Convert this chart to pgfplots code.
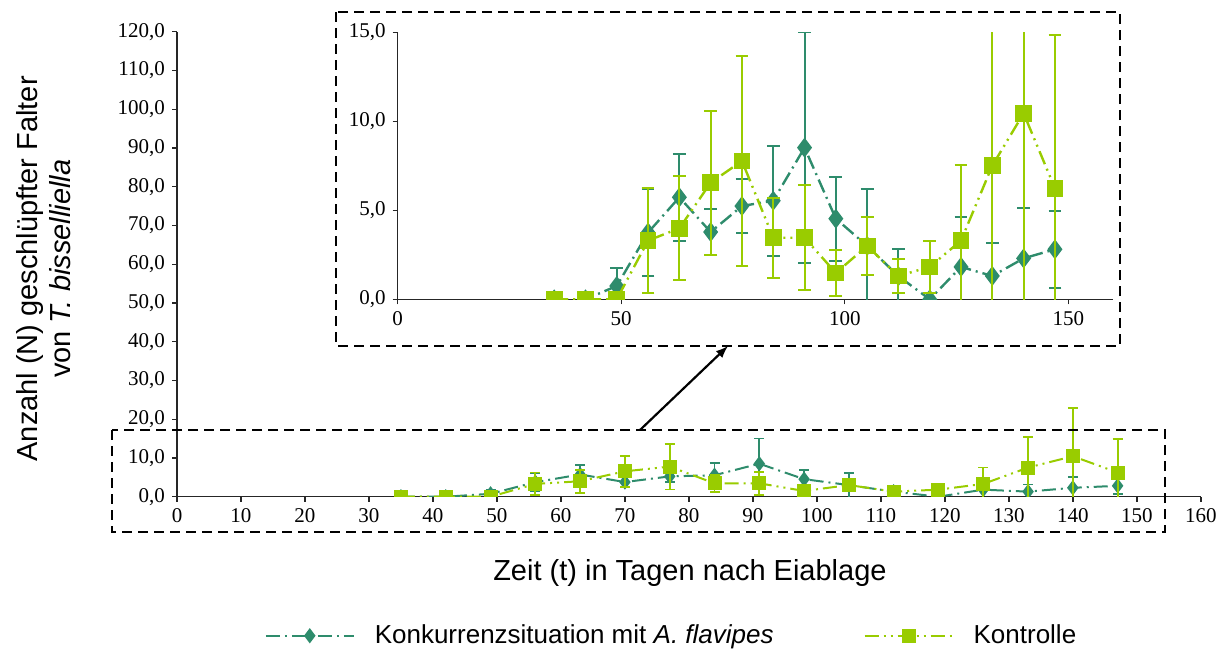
\documentclass[border=0pt]{standalone}
\usepackage{fontspec}
\setmainfont{Liberation Sans}
\newfontfamily\tickfont{Liberation Serif}
\usepackage{pgfplots}
\usepackage{pgfplotstable}
\pgfplotsset{compat=1.18}

\definecolor{konk}{RGB}{46,140,108}
\definecolor{kontr}{RGB}{153,204,0}

% day, mean, error
\pgfplotstableread{
x y e
35 0 0
42 0 0
49 0.75 0.99
56 3.75 2.42
63 5.73 2.43
70 3.78 1.28
77 5.24 1.50
84 5.54 3.09
91 8.52 6.48
98 4.53 2.36
105 3.00 3.18
112 1.30 1.51
119 0.00 0.00
126 1.82 2.82
133 1.31 1.84
140 2.30 2.81
147 2.81 2.15
}\konkdata

\pgfplotstableread{
x y e
35 0 0
42 0 0
49 0 0
56 3.30 2.93
63 3.99 2.93
70 6.55 4.05
77 7.77 5.91
84 3.46 2.24
91 3.46 2.96
98 1.48 1.31
105 3.00 1.64
112 1.31 0.98
119 1.82 1.48
126 3.30 4.25
133 7.51 7.85
140 10.45 12.50
147 6.24 8.60
}\kontrdata

\pgfplotsset{
  common/.style={
    scale only axis,
    anchor=south west,
    axis lines*=left,
    axis line style={line width=0.7pt, black!85},
    tick align=outside,
    major tick length=2.5pt,
    tick style={line width=0.7pt, black!85},
    ticklabel style={font=\tickfont\fontsize{10.5}{12}\selectfont},
    /pgf/number format/assume math mode=true,
    clip marker paths=true,
    xmin=0, xmax=160, ymin=0,
    yticklabel style={/pgf/number format/.cd, fixed, fixed zerofill, precision=1, use comma},
  },
  konkline/.style={color=konk, line width=#1, dash pattern=on 7pt off 2.5pt on 1pt off 2.5pt,
    mark=diamond*, mark options={solid}},
  kontrline/.style={color=kontr, line width=#1, dash pattern=on 7pt off 2.5pt on 1pt off 2.5pt on 1pt off 2.5pt,
    mark=square*, mark options={solid}},
  ebars/.style 2 args={error bars/.cd, y dir=both, y explicit,
    error bar style={solid, line width=#1},
    error mark options={rotate=90, solid, line width=#1, mark size=#2}},
}

\begin{document}
\begin{tikzpicture}
\path[use as bounding box] (0,0) rectangle (613pt,-326.5pt);

% main axis
\begin{axis}[common,
  at={(88.5pt,-248.35pt)},
  width=511.9pt, height=232.5pt,
  ymax=120,
  xtick={0,10,...,160}, ytick={0,10,...,120},
  xlabel={Zeit (t) in Tagen nach Eiablage},
  xlabel style={at={(axis description cs:0.501,-0.165)}, anchor=center,
    font=\fontsize{14.5}{16.5}\selectfont},
  ylabel={Anzahl (N) geschlüpfter Falter\\von \textit{T. bisselliella}},
  ylabel style={at={(axis description cs:-0.130,0.49)}, anchor=center, align=center,
    font=\fontsize{14.5}{16.5}\selectfont},
  legend columns=2,
  legend style={at={(axis description cs:0.484,-0.299)}, anchor=center, draw=none,
    font=\fontsize{13}{15}\selectfont,
    /tikz/every odd column/.append style={column sep=8pt},
    /tikz/every even column/.append style={column sep=43pt}},
  legend image code/.code={\draw[mark repeat=2, mark phase=2, #1]
    plot coordinates {(0pt,0pt) (22pt,0pt) (44pt,0pt)};},
]
\addplot[konkline=1pt, mark size=3pt, ebars={0.9pt}{2.5pt}]
  table[x=x, y=y, y error=e] {\konkdata};
\addlegendentry{Konkurrenzsituation mit \textit{A. flavipes}}
\addplot[kontrline=1pt, mark size=3pt, ebars={0.9pt}{2.5pt}]
  table[x=x, y=y, y error=e] {\kontrdata};
\addlegendentry{Kontrolle}
\end{axis}

% inset axis
\begin{axis}[common,
  at={(198.85pt,-149.65pt)},
  width=357.66pt, height=133.5pt,
  ymax=15,
  xtick={0,50,100,150}, ytick={0,5,10,15},
]
\addplot[konkline=1.2pt, mark size=4pt, ebars={1pt}{3.2pt}]
  table[x=x, y=y, y error=e] {\konkdata};
\addplot[kontrline=1.2pt, mark size=3.6pt, ebars={1pt}{3.2pt}]
  table[x=x, y=y, y error=e] {\kontrdata};
\end{axis}

% zoom frames and arrow
\draw[line width=1.25pt, dash pattern=on 5pt off 3pt] (168pt,-6pt) rectangle (560pt,-173pt);
\draw[line width=1.25pt, dash pattern=on 5pt off 3pt] (56pt,-215pt) rectangle (582.5pt,-266pt);
\draw[line width=1.1pt, -latex] (320pt,-215pt) -- (364pt,-173pt);
\end{tikzpicture}
\end{document}
